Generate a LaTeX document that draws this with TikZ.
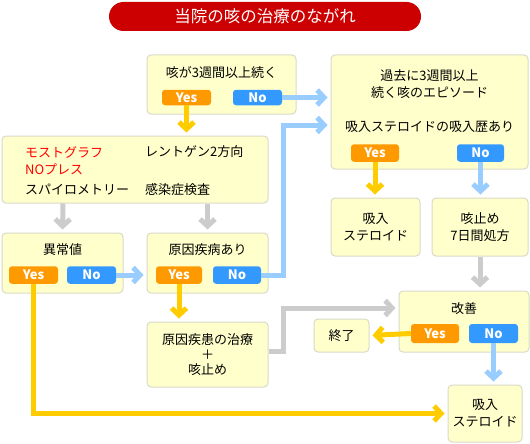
\documentclass[tikz,border=0pt]{standalone}
\usepackage{fontspec}
\setmainfont{Noto Sans CJK JP}
\usetikzlibrary{arrows.meta,positioning,calc}
\definecolor{boxfill}{HTML}{FFFFCC}
\definecolor{boxline}{HTML}{D9D9C8}
\definecolor{yesfill}{HTML}{FF9900}
\definecolor{nofill}{HTML}{3399FF}
\definecolor{yelarr}{HTML}{FFCC00}
\definecolor{bluarr}{HTML}{99CCFF}
\definecolor{grayarr}{HTML}{CCCCCC}
\definecolor{titlered}{HTML}{CC0000}
\definecolor{redtext}{HTML}{FF0000}

\begin{document}
\begin{tikzpicture}[x=1pt,y=-1pt,
  box/.style={draw=boxline,fill=boxfill,rounded corners=4pt,line width=1pt,
    inner sep=0pt,align=center,font=\fontsize{13}{17}\selectfont},
  txt/.style={inner sep=0pt,align=center,font=\fontsize{13}{17}\selectfont},
  btn/.style={rounded corners=3pt,inner sep=0pt,minimum height=17.5pt,
    text=white,font=\fontsize{13}{13}\selectfont\bfseries},
  yes/.style={btn,fill=yesfill}, no/.style={btn,fill=nofill},
  arr/.style={line width=5pt,-{Straight Barb[length=7pt,width=15pt]},shorten >=3pt},
  yarr/.style={arr,yelarr}, barr/.style={arr,bluarr}, garr/.style={arr,grayarr}
]
\useasboundingbox (0,0) rectangle (530,444);

\node[fill=titlered,rounded corners=14.5pt,minimum width=312pt,minimum height=29pt,
  text=white,font=\fontsize{16.5}{18}\selectfont] (title) at (265,16.5) {当院の咳の治療のながれ};

\node[box,minimum width=149pt,minimum height=59pt] (cough) at (221.5,84.5) {};
\node[txt] (coughT) at (221.5,73) {咳が3週間以上続く};
\node[yes,minimum width=49pt,minimum height=15.5pt] (coughY) at (186.5,97.5) {Yes};
\node[no,minimum width=49pt,minimum height=15.5pt] (coughN) at (257.5,97.5) {No};

\node[box,minimum width=266pt,minimum height=67pt] (tests) at (135,169.5) {};
\node[txt,anchor=west,text=redtext] (most) at (25,152) {モストグラフ};
\node[txt,anchor=west,text=redtext] (nobreath) at (25,169) {NOプレス};
\node[txt,anchor=west] (spiro) at (25,190) {スパイロメトリー};
\node[txt,anchor=west] (xray) at (145,152) {レントゲン2方向};
\node[txt,anchor=west] (infect) at (145,190) {感染症検査};

\node[box,minimum width=121pt,minimum height=60pt] (abn) at (62.5,263) {};
\node[txt] (abnT) at (62.5,250) {異常値};
\node[yes,minimum width=49pt] (abnY) at (33.5,275) {Yes};
\node[no,minimum width=49pt] (abnN) at (91.5,275) {No};

\node[box,minimum width=121pt,minimum height=60pt] (cause) at (207.5,263) {};
\node[txt] (causeT) at (207.5,250) {原因疾病あり};
\node[yes,minimum width=46pt] (causeY) at (179,275) {Yes};
\node[no,minimum width=48pt] (causeN) at (237,275) {No};

\node[box,minimum width=197pt,minimum height=114pt] (past) at (429.5,112) {};
\node[txt] (pastT) at (429.5,84) {過去に3週間以上\\続く咳のエピソード};
\node[txt] (pastS) at (429.5,127) {吸入ステロイドの吸入歴あり};
\node[yes,minimum width=48pt] (pastY) at (375,153) {Yes};
\node[no,minimum width=47pt] (pastN) at (480.5,153) {No};

\node[box,minimum width=89pt,minimum height=58pt] (ster1) at (375.5,227) {吸入\\ステロイド};
\node[box,minimum width=96pt,minimum height=58pt] (stop) at (480,227) {咳止め\\7日間処方};

\node[box,minimum width=121pt,minimum height=65pt,
  font=\fontsize{13}{15}\selectfont] (treat) at (207.5,354.5) {原因疾患の治療\\＋\\咳止め};

\node[box,minimum width=130pt,minimum height=61pt] (better) at (464,321.5) {};
\node[txt] (betterT) at (464,309) {改善};
\node[yes,minimum width=48pt,minimum height=19pt] (betterY) at (435,333.5) {Yes};
\node[no,minimum width=49pt,minimum height=19pt] (betterN) at (493.5,333.5) {No};

\node[box,minimum width=55pt,minimum height=33pt] (end) at (341.5,335.5) {終了};
\node[box,minimum width=74pt,minimum height=57pt] (ster2) at (485,413.5) {吸入\\ステロイド};

\coordinate (bendB) at (283,125);
\coordinate (bendG) at (283,308);

\draw[yarr] (coughY.south) -- (coughY.south |- tests.north);
\draw[garr] (tests.south -| 63,0) -- (abn.north);
\draw[garr] (tests.south -| cause.north) -- (cause.north);
\draw[barr] (abnN.east) -- (cause.west |- abnN.east);
\draw[barr] (coughN.east) -- (past.west |- coughN.east);
\draw[barr] (causeN.east) -| (bendB) -- (past.west |- bendB);
\draw[yarr] (causeY.south) -- (causeY.south |- treat.north);
\draw[yarr] (pastY.south) -- (pastY.south |- ster1.north);
\draw[barr] (pastN.south) -- (pastN.south |- stop.north);
\draw[garr] (stop.south) -- (stop.south |- better.north);
\draw[garr] ([yshift=3.5pt]treat.east) -| (bendG) -- (better.west |- bendG);
\draw[yarr] (betterY.west) -- (end.east);
\draw[barr] (betterN.south) -- (betterN.south |- ster2.north);
\draw[yarr] (abnY.south) |- (ster2.west);
\end{tikzpicture}
\end{document}
